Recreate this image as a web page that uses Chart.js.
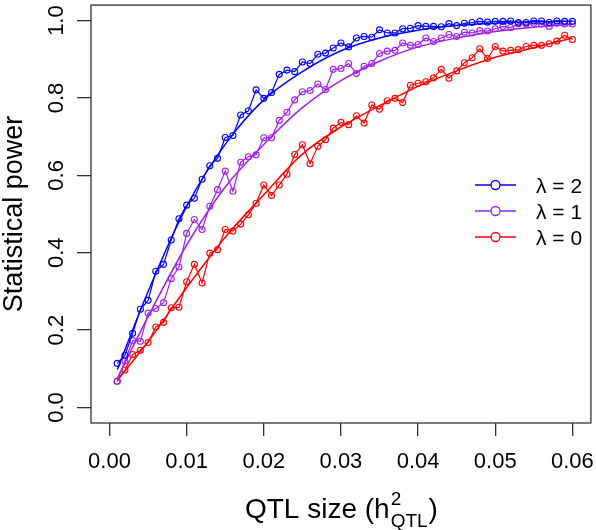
<!DOCTYPE html>
<html>
<head>
<meta charset="utf-8">
<script src="https://cdn.jsdelivr.net/npm/chart.js@4.4.1/dist/chart.umd.min.js"></script>
<style>
  body { margin: 0; background: #fff; }
  canvas { display: block; }
</style>
</head>
<body>
<canvas id="myChart" width="596" height="530"></canvas>
<script>
// QTL size values (x)
const qtlSize = [0.001, 0.002, 0.003, 0.004, 0.005, 0.006, 0.007, 0.008, 0.009, 0.010,
  0.011, 0.012, 0.013, 0.014, 0.015, 0.016, 0.017, 0.018, 0.019, 0.020,
  0.021, 0.022, 0.023, 0.024, 0.025, 0.026, 0.027, 0.028, 0.029, 0.030,
  0.031, 0.032, 0.033, 0.034, 0.035, 0.036, 0.037, 0.038, 0.039, 0.040,
  0.041, 0.042, 0.043, 0.044, 0.045, 0.046, 0.047, 0.048, 0.049, 0.050,
  0.051, 0.052, 0.053, 0.054, 0.055, 0.056, 0.057, 0.058, 0.059, 0.060];

// observed power, lambda = 2 / 1 / 0
const powerL2 = [0.114, 0.135, 0.192, 0.254, 0.277, 0.352, 0.370, 0.433, 0.488, 0.523,
  0.541, 0.590, 0.625, 0.644, 0.698, 0.703, 0.756, 0.767, 0.821, 0.799,
  0.814, 0.861, 0.872, 0.868, 0.893, 0.889, 0.913, 0.916, 0.929, 0.942,
  0.932, 0.955, 0.959, 0.957, 0.976, 0.968, 0.968, 0.979, 0.980, 0.987,
  0.985, 0.985, 0.984, 0.992, 0.987, 0.993, 0.995, 0.998, 0.996, 0.998,
  0.998, 0.999, 0.995, 0.995, 0.999, 0.999, 0.995, 0.999, 0.998, 0.998];
const powerL1 = [0.068, 0.120, 0.173, 0.171, 0.244, 0.256, 0.271, 0.333, 0.363, 0.450,
  0.486, 0.460, 0.520, 0.563, 0.611, 0.559, 0.634, 0.648, 0.653, 0.697,
  0.697, 0.742, 0.763, 0.795, 0.816, 0.819, 0.836, 0.822, 0.874, 0.876,
  0.889, 0.863, 0.882, 0.889, 0.915, 0.921, 0.923, 0.942, 0.936, 0.938,
  0.955, 0.946, 0.955, 0.964, 0.959, 0.970, 0.968, 0.974, 0.973, 0.979,
  0.985, 0.982, 0.992, 0.991, 0.993, 0.991, 0.985, 0.993, 0.991, 0.991];
const powerL0 = [0.068, 0.097, 0.137, 0.148, 0.168, 0.208, 0.220, 0.258, 0.259, 0.325,
  0.370, 0.322, 0.399, 0.408, 0.460, 0.456, 0.474, 0.498, 0.528, 0.575,
  0.548, 0.575, 0.603, 0.654, 0.679, 0.630, 0.675, 0.692, 0.722, 0.737,
  0.731, 0.754, 0.735, 0.782, 0.771, 0.793, 0.799, 0.788, 0.833, 0.838,
  0.842, 0.852, 0.874, 0.851, 0.870, 0.891, 0.904, 0.927, 0.902, 0.933,
  0.921, 0.923, 0.925, 0.933, 0.936, 0.936, 0.940, 0.947, 0.962, 0.951];

// fitted curves, read at a few x positions
const fitX = [0.001, 0.005, 0.010, 0.015, 0.020, 0.025, 0.030, 0.035, 0.040, 0.045, 0.050, 0.055, 0.060];
const fitL2 = [0.098, 0.300, 0.520, 0.680, 0.795, 0.868, 0.922, 0.955, 0.975, 0.987, 0.993, 0.997, 0.998];
const fitL1 = [0.075, 0.235, 0.420, 0.570, 0.680, 0.775, 0.845, 0.895, 0.932, 0.955, 0.972, 0.983, 0.990];
const fitL0 = [0.070, 0.170, 0.310, 0.440, 0.550, 0.655, 0.725, 0.780, 0.830, 0.870, 0.905, 0.930, 0.955];

const xTicks = [0, 0.01, 0.02, 0.03, 0.04, 0.05, 0.06];
const yTicks = [0, 0.2, 0.4, 0.6, 0.8, 1.0];
const seriesLabels = ['λ = 2', 'λ = 1', 'λ = 0'];
const seriesColors = ['#0000FF', '#A020F0', '#FF0000'];

const FONT = '"Liberation Sans", Arial, sans-serif';

function pairs(xs, ys) {
  return xs.map((x, i) => ({ x: x, y: ys[i] }));
}

const observed = [powerL2, powerL1, powerL0];
const fitted = [fitL2, fitL1, fitL0];

const datasets = [];
observed.forEach((vals, k) => {
  datasets.push({
    label: seriesLabels[k],
    data: pairs(qtlSize, vals),
    showLine: true,
    borderColor: seriesColors[k],
    borderWidth: 1.2,
    pointRadius: 3,
    pointStyle: 'circle',
    pointBorderColor: seriesColors[k],
    pointBackgroundColor: 'rgba(0,0,0,0)',
    pointBorderWidth: 1.1,
    tension: 0
  });
  datasets.push({
    label: seriesLabels[k] + ' fit',
    data: pairs(fitX, fitted[k]),
    showLine: true,
    borderColor: seriesColors[k],
    borderWidth: 1.5,
    pointRadius: 0,
    cubicInterpolationMode: 'monotone'
  });
});

const rPlot = {
  id: 'rPlot',
  afterDraw(chart) {
    const ctx = chart.ctx;
    const a = chart.chartArea;
    const xs = chart.scales.x;
    const ys = chart.scales.y;
    ctx.save();
    // box
    ctx.strokeStyle = '#333';
    ctx.lineWidth = 1.3;
    ctx.strokeRect(a.left, a.top, a.right - a.left, a.bottom - a.top);

    ctx.fillStyle = '#000';
    // x tick labels
    ctx.font = '22px ' + FONT;
    ctx.textAlign = 'center';
    ctx.textBaseline = 'alphabetic';
    xTicks.forEach(v => {
      ctx.fillText(v.toFixed(2), xs.getPixelForValue(v), 468);
    });
    // y tick labels (rotated)
    yTicks.forEach(v => {
      ctx.save();
      ctx.translate(63, ys.getPixelForValue(v));
      ctx.rotate(-Math.PI / 2);
      ctx.fillText(v.toFixed(1), 0, 0);
      ctx.restore();
    });
    // y title
    ctx.save();
    ctx.font = '27px ' + FONT;
    ctx.translate(22, (a.top + a.bottom) / 2);
    ctx.rotate(-Math.PI / 2);
    ctx.fillText('Statistical power', 0, 0);
    ctx.restore();

    // x title: QTL size (h^2_QTL)
    const main = 'QTL size (h';
    ctx.font = '28px ' + FONT;
    const wMain = ctx.measureText(main).width;
    const wParen = ctx.measureText(')').width;
    ctx.font = '19px ' + FONT;
    const wSub = ctx.measureText('QTL').width;
    const total = wMain + wSub + 1 + wParen;
    let x0 = (a.left + a.right) / 2 - total / 2;
    ctx.textAlign = 'left';
    ctx.font = '28px ' + FONT;
    ctx.fillText(main, x0, 518);
    ctx.font = '19px ' + FONT;
    ctx.fillText('2', x0 + wMain + 1, 505);
    ctx.fillText('QTL', x0 + wMain + 1, 527);
    ctx.font = '28px ' + FONT;
    ctx.fillText(')', x0 + wMain + wSub + 2, 518);

    // legend
    const lx = 475, lw = 41, ly = [185, 211, 237];
    ctx.font = '21px ' + FONT;
    seriesLabels.forEach((lab, k) => {
      ctx.strokeStyle = seriesColors[k];
      ctx.lineWidth = 1.3;
      ctx.beginPath();
      ctx.moveTo(lx, ly[k]);
      ctx.lineTo(lx + lw, ly[k]);
      ctx.stroke();
      ctx.fillStyle = '#fff';
      ctx.beginPath();
      ctx.arc(lx + lw / 2, ly[k], 4.5, 0, Math.PI * 2);
      ctx.fill();
      ctx.stroke();
      ctx.fillStyle = '#000';
      ctx.fillText(lab, 536, ly[k] + 8);
    });
    ctx.restore();
  }
};

const ctx = document.getElementById('myChart').getContext('2d');
const myChart = new Chart(ctx, {
  type: 'scatter',
  data: { datasets: datasets },
  options: {
    responsive: false,
    animation: false,
    devicePixelRatio: 1,
    layout: { padding: { left: 0, top: 1, right: 3, bottom: 0 } },
    plugins: {
      legend: { display: false },
      tooltip: { enabled: false }
    },
    scales: {
      x: {
        type: 'linear',
        min: -0.0024,
        max: 0.0624,
        afterFit: s => { s.height = 107; },
        afterBuildTicks: s => { s.ticks = xTicks.map(v => ({ value: v })); },
        ticks: { display: false, includeBounds: false },
        grid: { drawOnChartArea: false, drawTicks: true, tickLength: 13, color: '#333', lineWidth: 1.3 },
        border: { display: false }
      },
      y: {
        type: 'linear',
        min: -0.04,
        max: 1.04,
        afterFit: s => { s.width = 91; },
        afterBuildTicks: s => { s.ticks = yTicks.map(v => ({ value: v })); },
        ticks: { display: false, includeBounds: false },
        grid: { drawOnChartArea: false, drawTicks: true, tickLength: 14, color: '#333', lineWidth: 1.3 },
        border: { display: false }
      }
    }
  },
  plugins: [rPlot]
});
</script>
</body>
</html>
